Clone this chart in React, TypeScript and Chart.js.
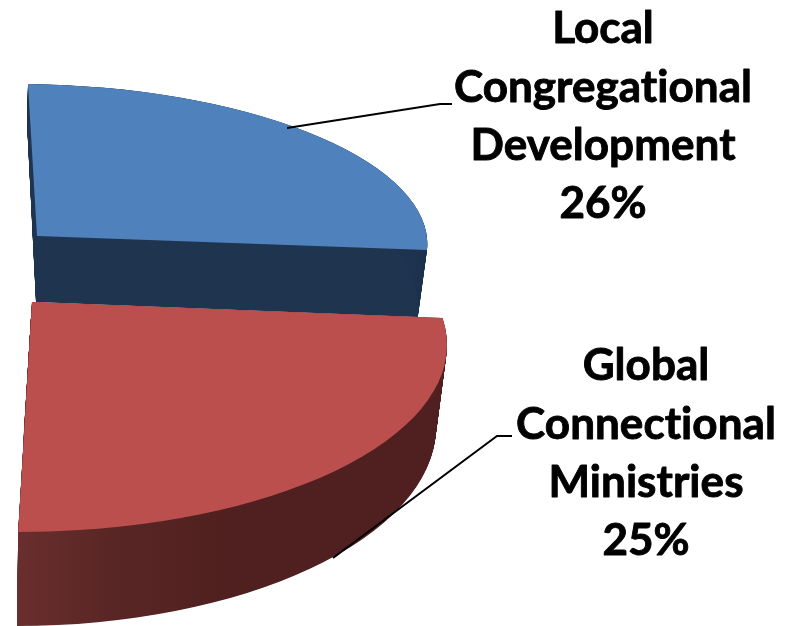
import React, { useEffect, useRef } from "react";
import { Chart, registerables } from "chart.js";

Chart.register(...registerables);

const categories = ["Local Congregational Development", "Global Connectional Ministries", "Other"];
const shares = [26, 25, 49];
const visible = [true, true, false];
const labelLines = [
  ["Local", "Congregational", "Development", "26%"],
  ["Global", "Connectional", "Ministries", "25%"],
];

const topColors = ["#4F81BD", "#BA4F4D", "rgba(0,0,0,0)"];

const deg = Math.PI / 180;

type Face = { apex: number[]; o: number[]; x: number[]; y: number[]; t0: number; stretch: number };

// Perspective projection of each slice's disc: top face and lower face.
const projection: { top: Face; bottom: Face }[] = [
  {
    top: { apex: [37, 236], o: [37, 236], x: [390.2, 4.5], y: [9, 152], t0: -90 * deg, stretch: 1 },
    bottom: { apex: [36, 302], o: [36, 302], x: [382, 3.6], y: [9, 180], t0: -90 * deg, stretch: 1 },
  },
  {
    top: { apex: [32, 302], o: [18, 345], x: [429, 0], y: [0, 187], t0: -8.3 * deg, stretch: 1.092 },
    bottom: { apex: [24, 430], o: [24, 430], x: [412, 0], y: [-7, 196], t0: 0, stretch: 1 },
  },
];

const labelStyle = [
  { cx: 603, base: [43, 102, 160, 218], leader: [[287, 128], [440, 104], [452, 104]] },
  { cx: 646, base: [380, 439, 497, 555], leader: [[333, 558], [497, 436], [512, 436]] },
];

const lerp = (a: number, b: number, t: number) => a + (b - a) * t;
const mix = (a: number[], b: number[], t: number) => [lerp(a[0], b[0], t), lerp(a[1], b[1], t)];

function tracePath(ctx: CanvasRenderingContext2D, arc: any, f: Face) {
  const r = arc.outerRadius;
  const a1 = f.x[0] / r, b1 = f.x[1] / r, c1 = f.y[0] / r, d1 = f.y[1] / r;
  const sweep = (arc.endAngle - arc.startAngle) * f.stretch;
  ctx.beginPath();
  ctx.moveTo(f.apex[0], f.apex[1]);
  ctx.save();
  ctx.transform(a1, b1, c1, d1, f.o[0] - (a1 * arc.x + c1 * arc.y), f.o[1] - (b1 * arc.x + d1 * arc.y));
  ctx.arc(arc.x, arc.y, r, f.t0, f.t0 + sweep);
  ctx.restore();
  ctx.closePath();
}

const pie3d = {
  id: "pie3d",
  beforeDatasetsDraw(chart: any) {
    const ctx: CanvasRenderingContext2D = chart.ctx;
    const arcs = chart.getDatasetMeta(0).data;
    arcs.forEach((arc: any, i: number) => {
      if (!visible[i]) return;
      const p = projection[i];
      let side: any;
      if (i === 0) {
        side = "#1F344F";
      } else {
        side = ctx.createLinearGradient(17, 0, 230, 0);
        side.addColorStop(0, "#6A2E2E");
        side.addColorStop(0.45, "#592625");
        side.addColorStop(1, "#4F201F");
      }
      ctx.fillStyle = side;
      const steps = 140;
      for (let k = 0; k <= steps; k++) {
        const t = k / steps;
        tracePath(ctx, arc, {
          apex: mix(p.top.apex, p.bottom.apex, t),
          o: mix(p.top.o, p.bottom.o, t),
          x: mix(p.top.x, p.bottom.x, t),
          y: mix(p.top.y, p.bottom.y, t),
          t0: lerp(p.top.t0, p.bottom.t0, t),
          stretch: lerp(p.top.stretch, p.bottom.stretch, t),
        });
        ctx.fill();
      }
      ctx.fillStyle = arc.options.backgroundColor;
      tracePath(ctx, arc, p.top);
      ctx.fill();
    });
    return false;
  },
  afterDraw(chart: any) {
    const ctx: CanvasRenderingContext2D = chart.ctx;
    labelStyle.forEach((s, i) => {
      ctx.save();
      ctx.strokeStyle = "#000";
      ctx.lineWidth = 2;
      ctx.beginPath();
      s.leader.forEach((pt, j) => (j ? ctx.lineTo(pt[0], pt[1]) : ctx.moveTo(pt[0], pt[1])));
      ctx.stroke();
      ctx.fillStyle = "#000";
      ctx.font = "bold 44px Lato, 'Open Sans', sans-serif";
      (ctx as any).letterSpacing = "0.05px";
      ctx.textAlign = "center";
      ctx.textBaseline = "alphabetic";
      ctx.lineWidth = 0.9;
      ctx.lineJoin = "round";
      labelLines[i].forEach((line, j) => {
        ctx.fillText(line, s.cx, s.base[j]);
        ctx.strokeText(line, s.cx, s.base[j]);
      });
      ctx.restore();
    });
  },
};

export default function App() {
  const ref = useRef<HTMLCanvasElement>(null);
  useEffect(() => {
    document.body.style.margin = "0";
    const chart = new Chart(ref.current!, {
      type: "pie",
      data: {
        labels: categories,
        datasets: [{ data: shares, backgroundColor: topColors, borderWidth: 0 }],
      },
      options: {
        animation: false,
        responsive: false,
        devicePixelRatio: 1,
        plugins: { legend: { display: false }, tooltip: { enabled: false } },
      },
      plugins: [pie3d],
    } as any);
    return () => chart.destroy();
  }, []);
  return <canvas ref={ref} width={791} height={626} style={{ display: "block" }} />;
}
